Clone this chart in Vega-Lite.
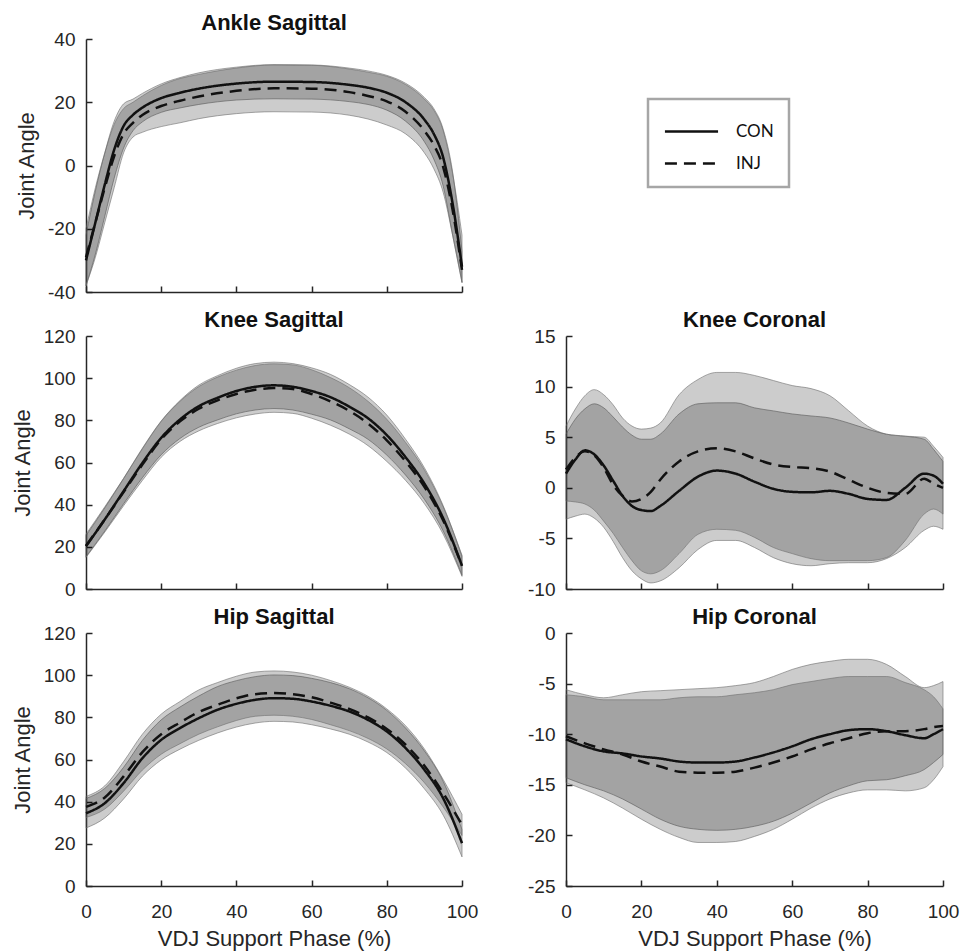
{
  "$schema": "https://vega.github.io/schema/vega-lite/v6.json",
  "background": "white",
  "padding": {"left": 11, "top": 12, "right": 5, "bottom": 2},
  "columns": 2,
  "bounds": "flush",
  "align": "all",
  "spacing": {"row": 44, "column": 103},
  "config": {
    "view": {"stroke": null},
    "font": "Liberation Sans",
    "axis": {
      "domainColor": "#262626", "domainWidth": 1.5,
      "tickColor": "#262626", "tickWidth": 1.5, "tickSize": -6,
      "labelFont": "Liberation Sans", "labelFontSize": 19, "labelColor": "#262626",
      "labelFlush": false, "labelOverlap": false,
      "titleFont": "Liberation Sans", "titleFontSize": 22, "titleFontWeight": "normal", "titleColor": "#262626",
      "grid": false
    },
    "axisX": {"labelPadding": 22, "titlePadding": 7},
    "axisY": {"labelPadding": 17, "titlePadding": 9},
    "title": {"font": "Liberation Sans", "fontSize": 22, "fontWeight": "bold", "color": "#111111", "offset": -5, "frame": "group"},
    "legend": {
      "orient": "none", "legendX": 562, "legendY": 60,
      "strokeColor": "#a6a6a6", "strokeWidth": 2.5, "padding": 15,
      "labelFont": "Lato", "labelFontSize": 17, "labelColor": "#111111",
      "symbolType": "M-1.66,0H1.66", "symbolSize": 1024, "symbolStrokeWidth": 2.5, "symbolOffset": 11,
      "symbolStrokeColor": "#111111", "labelOffset": 27, "rowPadding": 6
    }
  },
  "resolve": {
    "scale": {"x": "independent", "y": "independent", "strokeDash": "shared"},
    "legend": {"strokeDash": "shared"}
  },
  "datasets": {
    "kin": [
      {"panel": "Ankle Sagittal", "group": "CON", "phase": 0, "mean": -30, "lower": -38, "upper": -22},
      {"panel": "Ankle Sagittal", "group": "CON", "phase": 2.5, "mean": -18, "lower": -28, "upper": -8},
      {"panel": "Ankle Sagittal", "group": "CON", "phase": 5, "mean": -6, "lower": -16, "upper": 4},
      {"panel": "Ankle Sagittal", "group": "CON", "phase": 7.5, "mean": 5, "lower": -4, "upper": 14},
      {"panel": "Ankle Sagittal", "group": "CON", "phase": 10, "mean": 12.5, "lower": 5.5, "upper": 19.5},
      {"panel": "Ankle Sagittal", "group": "CON", "phase": 12.5, "mean": 16, "lower": 11, "upper": 21},
      {"panel": "Ankle Sagittal", "group": "CON", "phase": 15, "mean": 18.3, "lower": 13.8, "upper": 22.8},
      {"panel": "Ankle Sagittal", "group": "CON", "phase": 20, "mean": 21.3, "lower": 16.8, "upper": 25.8},
      {"panel": "Ankle Sagittal", "group": "CON", "phase": 25, "mean": 23, "lower": 18.2, "upper": 27.8},
      {"panel": "Ankle Sagittal", "group": "CON", "phase": 30, "mean": 24.3, "lower": 19.3, "upper": 29.3},
      {"panel": "Ankle Sagittal", "group": "CON", "phase": 40, "mean": 25.9, "lower": 20.7, "upper": 31.1},
      {"panel": "Ankle Sagittal", "group": "CON", "phase": 50, "mean": 26.5, "lower": 21.1, "upper": 31.9},
      {"panel": "Ankle Sagittal", "group": "CON", "phase": 60, "mean": 26.4, "lower": 21, "upper": 31.8},
      {"panel": "Ankle Sagittal", "group": "CON", "phase": 70, "mean": 25.5, "lower": 20.2, "upper": 30.8},
      {"panel": "Ankle Sagittal", "group": "CON", "phase": 75, "mean": 24.6, "lower": 19.3, "upper": 29.9},
      {"panel": "Ankle Sagittal", "group": "CON", "phase": 80, "mean": 23, "lower": 17.5, "upper": 28.5},
      {"panel": "Ankle Sagittal", "group": "CON", "phase": 85, "mean": 20, "lower": 14, "upper": 26},
      {"panel": "Ankle Sagittal", "group": "CON", "phase": 90, "mean": 14.5, "lower": 7.5, "upper": 21.5},
      {"panel": "Ankle Sagittal", "group": "CON", "phase": 92.5, "mean": 10, "lower": 2, "upper": 18},
      {"panel": "Ankle Sagittal", "group": "CON", "phase": 95, "mean": 2.5, "lower": -6.5, "upper": 11.5},
      {"panel": "Ankle Sagittal", "group": "CON", "phase": 97.5, "mean": -12, "lower": -22, "upper": -2},
      {"panel": "Ankle Sagittal", "group": "CON", "phase": 100, "mean": -32, "lower": -37, "upper": -27},
      {"panel": "Ankle Sagittal", "group": "INJ", "phase": 0, "mean": -29, "lower": -38, "upper": -20},
      {"panel": "Ankle Sagittal", "group": "INJ", "phase": 2.5, "mean": -18, "lower": -29, "upper": -7},
      {"panel": "Ankle Sagittal", "group": "INJ", "phase": 5, "mean": -7, "lower": -18, "upper": 4},
      {"panel": "Ankle Sagittal", "group": "INJ", "phase": 7.5, "mean": 3, "lower": -7, "upper": 13},
      {"panel": "Ankle Sagittal", "group": "INJ", "phase": 10, "mean": 10, "lower": 4, "upper": 18},
      {"panel": "Ankle Sagittal", "group": "INJ", "phase": 12.5, "mean": 13.5, "lower": 9, "upper": 20},
      {"panel": "Ankle Sagittal", "group": "INJ", "phase": 15, "mean": 16, "lower": 10.5, "upper": 22},
      {"panel": "Ankle Sagittal", "group": "INJ", "phase": 20, "mean": 18.8, "lower": 12.3, "upper": 25.3},
      {"panel": "Ankle Sagittal", "group": "INJ", "phase": 25, "mean": 20.5, "lower": 13.5, "upper": 27.5},
      {"panel": "Ankle Sagittal", "group": "INJ", "phase": 30, "mean": 21.8, "lower": 14.8, "upper": 28.8},
      {"panel": "Ankle Sagittal", "group": "INJ", "phase": 40, "mean": 23.6, "lower": 16.4, "upper": 30.8},
      {"panel": "Ankle Sagittal", "group": "INJ", "phase": 50, "mean": 24.4, "lower": 17, "upper": 31.8},
      {"panel": "Ankle Sagittal", "group": "INJ", "phase": 60, "mean": 24.3, "lower": 16.9, "upper": 31.7},
      {"panel": "Ankle Sagittal", "group": "INJ", "phase": 70, "mean": 23.2, "lower": 15.9, "upper": 30.5},
      {"panel": "Ankle Sagittal", "group": "INJ", "phase": 75, "mean": 22, "lower": 14.7, "upper": 29.5},
      {"panel": "Ankle Sagittal", "group": "INJ", "phase": 80, "mean": 20.3, "lower": 12.8, "upper": 28.2},
      {"panel": "Ankle Sagittal", "group": "INJ", "phase": 85, "mean": 17, "lower": 10, "upper": 25.6},
      {"panel": "Ankle Sagittal", "group": "INJ", "phase": 90, "mean": 11, "lower": 4, "upper": 21},
      {"panel": "Ankle Sagittal", "group": "INJ", "phase": 92.5, "mean": 6.5, "lower": -1, "upper": 17.5},
      {"panel": "Ankle Sagittal", "group": "INJ", "phase": 95, "mean": -0.5, "lower": -8.5, "upper": 11},
      {"panel": "Ankle Sagittal", "group": "INJ", "phase": 97.5, "mean": -14, "lower": -22, "upper": -2.5},
      {"panel": "Ankle Sagittal", "group": "INJ", "phase": 100, "mean": -33, "lower": -37, "upper": -22},

      {"panel": "Knee Sagittal", "group": "CON", "phase": 0, "mean": 20.3, "lower": 15.3, "upper": 25.3},
      {"panel": "Knee Sagittal", "group": "CON", "phase": 5, "mean": 33, "lower": 27.5, "upper": 38.5},
      {"panel": "Knee Sagittal", "group": "CON", "phase": 10, "mean": 46.4, "lower": 40.4, "upper": 52.4},
      {"panel": "Knee Sagittal", "group": "CON", "phase": 15, "mean": 59.8, "lower": 52.8, "upper": 66.8},
      {"panel": "Knee Sagittal", "group": "CON", "phase": 20, "mean": 71.7, "lower": 63.7, "upper": 79.7},
      {"panel": "Knee Sagittal", "group": "CON", "phase": 25, "mean": 80.4, "lower": 71.4, "upper": 89.4},
      {"panel": "Knee Sagittal", "group": "CON", "phase": 30, "mean": 86.7, "lower": 76.7, "upper": 96.7},
      {"panel": "Knee Sagittal", "group": "CON", "phase": 35, "mean": 90.7, "lower": 80.2, "upper": 101.2},
      {"panel": "Knee Sagittal", "group": "CON", "phase": 40, "mean": 93.9, "lower": 83.1, "upper": 104.7},
      {"panel": "Knee Sagittal", "group": "CON", "phase": 45, "mean": 95.9, "lower": 84.9, "upper": 106.9},
      {"panel": "Knee Sagittal", "group": "CON", "phase": 50, "mean": 96.6, "lower": 85.6, "upper": 107.6},
      {"panel": "Knee Sagittal", "group": "CON", "phase": 55, "mean": 95.9, "lower": 84.9, "upper": 106.9},
      {"panel": "Knee Sagittal", "group": "CON", "phase": 60, "mean": 93.9, "lower": 82.9, "upper": 104.9},
      {"panel": "Knee Sagittal", "group": "CON", "phase": 65, "mean": 91, "lower": 80.2, "upper": 101.8},
      {"panel": "Knee Sagittal", "group": "CON", "phase": 70, "mean": 86.5, "lower": 76, "upper": 97},
      {"panel": "Knee Sagittal", "group": "CON", "phase": 75, "mean": 81, "lower": 71, "upper": 91},
      {"panel": "Knee Sagittal", "group": "CON", "phase": 80, "mean": 73, "lower": 63.5, "upper": 82.5},
      {"panel": "Knee Sagittal", "group": "CON", "phase": 85, "mean": 62.5, "lower": 54, "upper": 71},
      {"panel": "Knee Sagittal", "group": "CON", "phase": 90, "mean": 50, "lower": 42.5, "upper": 57.5},
      {"panel": "Knee Sagittal", "group": "CON", "phase": 95, "mean": 33.5, "lower": 27.5, "upper": 39.5},
      {"panel": "Knee Sagittal", "group": "CON", "phase": 100, "mean": 11, "lower": 6.5, "upper": 15.5},
      {"panel": "Knee Sagittal", "group": "INJ", "phase": 0, "mean": 20.5, "lower": 15, "upper": 26},
      {"panel": "Knee Sagittal", "group": "INJ", "phase": 5, "mean": 33, "lower": 27, "upper": 39},
      {"panel": "Knee Sagittal", "group": "INJ", "phase": 10, "mean": 46, "lower": 39.5, "upper": 52.5},
      {"panel": "Knee Sagittal", "group": "INJ", "phase": 15, "mean": 59, "lower": 51.5, "upper": 66.5},
      {"panel": "Knee Sagittal", "group": "INJ", "phase": 20, "mean": 71, "lower": 62.5, "upper": 79.5},
      {"panel": "Knee Sagittal", "group": "INJ", "phase": 25, "mean": 79.5, "lower": 70, "upper": 89},
      {"panel": "Knee Sagittal", "group": "INJ", "phase": 30, "mean": 85.5, "lower": 75, "upper": 96},
      {"panel": "Knee Sagittal", "group": "INJ", "phase": 35, "mean": 89.5, "lower": 78.5, "upper": 100.5},
      {"panel": "Knee Sagittal", "group": "INJ", "phase": 40, "mean": 92.5, "lower": 81.2, "upper": 103.8},
      {"panel": "Knee Sagittal", "group": "INJ", "phase": 45, "mean": 94.5, "lower": 83, "upper": 106},
      {"panel": "Knee Sagittal", "group": "INJ", "phase": 50, "mean": 95.3, "lower": 83.8, "upper": 106.8},
      {"panel": "Knee Sagittal", "group": "INJ", "phase": 55, "mean": 94.8, "lower": 83.3, "upper": 106.3},
      {"panel": "Knee Sagittal", "group": "INJ", "phase": 60, "mean": 92.5, "lower": 81, "upper": 104},
      {"panel": "Knee Sagittal", "group": "INJ", "phase": 65, "mean": 89, "lower": 77.7, "upper": 100.3},
      {"panel": "Knee Sagittal", "group": "INJ", "phase": 70, "mean": 84.5, "lower": 73.5, "upper": 95.5},
      {"panel": "Knee Sagittal", "group": "INJ", "phase": 75, "mean": 78.5, "lower": 68, "upper": 89},
      {"panel": "Knee Sagittal", "group": "INJ", "phase": 80, "mean": 70.5, "lower": 60.5, "upper": 80.5},
      {"panel": "Knee Sagittal", "group": "INJ", "phase": 85, "mean": 60.5, "lower": 51.5, "upper": 69.5},
      {"panel": "Knee Sagittal", "group": "INJ", "phase": 90, "mean": 48.5, "lower": 40.5, "upper": 56.5},
      {"panel": "Knee Sagittal", "group": "INJ", "phase": 95, "mean": 32.5, "lower": 26, "upper": 39},
      {"panel": "Knee Sagittal", "group": "INJ", "phase": 100, "mean": 11, "lower": 6, "upper": 16},

      {"panel": "Hip Sagittal", "group": "CON", "phase": 0, "mean": 34.5, "lower": 27.5, "upper": 41.5},
      {"panel": "Hip Sagittal", "group": "CON", "phase": 5, "mean": 39.3, "lower": 32.3, "upper": 46.3},
      {"panel": "Hip Sagittal", "group": "CON", "phase": 10, "mean": 48.8, "lower": 41.3, "upper": 56.3},
      {"panel": "Hip Sagittal", "group": "CON", "phase": 15, "mean": 60.6, "lower": 52.1, "upper": 69.1},
      {"panel": "Hip Sagittal", "group": "CON", "phase": 20, "mean": 69.3, "lower": 59.8, "upper": 78.8},
      {"panel": "Hip Sagittal", "group": "CON", "phase": 25, "mean": 74.9, "lower": 64.9, "upper": 84.9},
      {"panel": "Hip Sagittal", "group": "CON", "phase": 30, "mean": 79.6, "lower": 69.1, "upper": 90.1},
      {"panel": "Hip Sagittal", "group": "CON", "phase": 35, "mean": 83.6, "lower": 72.6, "upper": 94.6},
      {"panel": "Hip Sagittal", "group": "CON", "phase": 40, "mean": 86.4, "lower": 75.4, "upper": 97.4},
      {"panel": "Hip Sagittal", "group": "CON", "phase": 45, "mean": 88.3, "lower": 77.3, "upper": 99.3},
      {"panel": "Hip Sagittal", "group": "CON", "phase": 50, "mean": 89.1, "lower": 78.1, "upper": 100.1},
      {"panel": "Hip Sagittal", "group": "CON", "phase": 55, "mean": 88.8, "lower": 77.8, "upper": 99.8},
      {"panel": "Hip Sagittal", "group": "CON", "phase": 60, "mean": 87.5, "lower": 76.5, "upper": 98.5},
      {"panel": "Hip Sagittal", "group": "CON", "phase": 65, "mean": 85.5, "lower": 74.5, "upper": 96.5},
      {"panel": "Hip Sagittal", "group": "CON", "phase": 70, "mean": 82.8, "lower": 72, "upper": 93.6},
      {"panel": "Hip Sagittal", "group": "CON", "phase": 75, "mean": 78.8, "lower": 68.3, "upper": 89.3},
      {"panel": "Hip Sagittal", "group": "CON", "phase": 80, "mean": 73.3, "lower": 63.3, "upper": 83.3},
      {"panel": "Hip Sagittal", "group": "CON", "phase": 85, "mean": 65.4, "lower": 55.9, "upper": 74.9},
      {"panel": "Hip Sagittal", "group": "CON", "phase": 90, "mean": 55.1, "lower": 46.1, "upper": 64.1},
      {"panel": "Hip Sagittal", "group": "CON", "phase": 95, "mean": 41.6, "lower": 33.6, "upper": 49.6},
      {"panel": "Hip Sagittal", "group": "CON", "phase": 100, "mean": 20.3, "lower": 13.8, "upper": 26.8},
      {"panel": "Hip Sagittal", "group": "INJ", "phase": 0, "mean": 37.5, "lower": 32.5, "upper": 42.5},
      {"panel": "Hip Sagittal", "group": "INJ", "phase": 5, "mean": 42, "lower": 36.5, "upper": 47.5},
      {"panel": "Hip Sagittal", "group": "INJ", "phase": 10, "mean": 52, "lower": 45, "upper": 59},
      {"panel": "Hip Sagittal", "group": "INJ", "phase": 15, "mean": 63.5, "lower": 55, "upper": 72},
      {"panel": "Hip Sagittal", "group": "INJ", "phase": 20, "mean": 72, "lower": 62.5, "upper": 81.5},
      {"panel": "Hip Sagittal", "group": "INJ", "phase": 25, "mean": 77.5, "lower": 67.5, "upper": 87.5},
      {"panel": "Hip Sagittal", "group": "INJ", "phase": 30, "mean": 82.5, "lower": 72, "upper": 93},
      {"panel": "Hip Sagittal", "group": "INJ", "phase": 35, "mean": 86, "lower": 75.5, "upper": 96.5},
      {"panel": "Hip Sagittal", "group": "INJ", "phase": 40, "mean": 89, "lower": 78.5, "upper": 99.5},
      {"panel": "Hip Sagittal", "group": "INJ", "phase": 45, "mean": 91, "lower": 80.5, "upper": 101.5},
      {"panel": "Hip Sagittal", "group": "INJ", "phase": 50, "mean": 91.5, "lower": 81, "upper": 102},
      {"panel": "Hip Sagittal", "group": "INJ", "phase": 55, "mean": 91, "lower": 80.5, "upper": 101.5},
      {"panel": "Hip Sagittal", "group": "INJ", "phase": 60, "mean": 89.5, "lower": 79, "upper": 100},
      {"panel": "Hip Sagittal", "group": "INJ", "phase": 65, "mean": 87, "lower": 76.5, "upper": 97.5},
      {"panel": "Hip Sagittal", "group": "INJ", "phase": 70, "mean": 84, "lower": 73.7, "upper": 94.3},
      {"panel": "Hip Sagittal", "group": "INJ", "phase": 75, "mean": 80, "lower": 70, "upper": 90},
      {"panel": "Hip Sagittal", "group": "INJ", "phase": 80, "mean": 74.5, "lower": 65, "upper": 84},
      {"panel": "Hip Sagittal", "group": "INJ", "phase": 85, "mean": 67, "lower": 58, "upper": 76},
      {"panel": "Hip Sagittal", "group": "INJ", "phase": 90, "mean": 57, "lower": 49, "upper": 65},
      {"panel": "Hip Sagittal", "group": "INJ", "phase": 95, "mean": 44, "lower": 37.5, "upper": 50.5},
      {"panel": "Hip Sagittal", "group": "INJ", "phase": 100, "mean": 29, "lower": 24, "upper": 34},

      {"panel": "Knee Coronal", "group": "CON", "phase": 0, "mean": 1.4, "lower": -3.1, "upper": 5.3},
      {"panel": "Knee Coronal", "group": "CON", "phase": 2.5, "mean": 2.8, "lower": -2.8, "upper": 6.8},
      {"panel": "Knee Coronal", "group": "CON", "phase": 5, "mean": 3.7, "lower": -2.6, "upper": 7.8},
      {"panel": "Knee Coronal", "group": "CON", "phase": 7.5, "mean": 3.3, "lower": -3.0, "upper": 8.3},
      {"panel": "Knee Coronal", "group": "CON", "phase": 10, "mean": 2.2, "lower": -3.9, "upper": 7.9},
      {"panel": "Knee Coronal", "group": "CON", "phase": 12.5, "mean": 0.7, "lower": -5.3, "upper": 7.0},
      {"panel": "Knee Coronal", "group": "CON", "phase": 15, "mean": -0.8, "lower": -6.9, "upper": 6.0},
      {"panel": "Knee Coronal", "group": "CON", "phase": 17.5, "mean": -1.8, "lower": -8.2, "upper": 5.2},
      {"panel": "Knee Coronal", "group": "CON", "phase": 20, "mean": -2.2, "lower": -9.0, "upper": 4.8},
      {"panel": "Knee Coronal", "group": "CON", "phase": 22.5, "mean": -2.3, "lower": -9.4, "upper": 4.8},
      {"panel": "Knee Coronal", "group": "CON", "phase": 25, "mean": -1.8, "lower": -9.2, "upper": 5.3},
      {"panel": "Knee Coronal", "group": "CON", "phase": 30, "mean": -0.3, "lower": -7.9, "upper": 7.3},
      {"panel": "Knee Coronal", "group": "CON", "phase": 35, "mean": 1.1, "lower": -6.1, "upper": 8.3},
      {"panel": "Knee Coronal", "group": "CON", "phase": 40, "mean": 1.7, "lower": -5.2, "upper": 8.4},
      {"panel": "Knee Coronal", "group": "CON", "phase": 45, "mean": 1.4, "lower": -5.2, "upper": 8.4},
      {"panel": "Knee Coronal", "group": "CON", "phase": 50, "mean": 0.6, "lower": -5.9, "upper": 7.9},
      {"panel": "Knee Coronal", "group": "CON", "phase": 55, "mean": -0.1, "lower": -6.9, "upper": 7.6},
      {"panel": "Knee Coronal", "group": "CON", "phase": 60, "mean": -0.4, "lower": -7.5, "upper": 7.3},
      {"panel": "Knee Coronal", "group": "CON", "phase": 65, "mean": -0.45, "lower": -7.7, "upper": 7.1},
      {"panel": "Knee Coronal", "group": "CON", "phase": 70, "mean": -0.3, "lower": -7.5, "upper": 6.9},
      {"panel": "Knee Coronal", "group": "CON", "phase": 75, "mean": -0.6, "lower": -7.4, "upper": 6.4},
      {"panel": "Knee Coronal", "group": "CON", "phase": 80, "mean": -1.1, "lower": -7.4, "upper": 5.8},
      {"panel": "Knee Coronal", "group": "CON", "phase": 85, "mean": -1.2, "lower": -7.0, "upper": 5.3},
      {"panel": "Knee Coronal", "group": "CON", "phase": 90, "mean": 0.0, "lower": -5.9, "upper": 5.1},
      {"panel": "Knee Coronal", "group": "CON", "phase": 95, "mean": 1.4, "lower": -4.2, "upper": 4.8},
      {"panel": "Knee Coronal", "group": "CON", "phase": 97.5, "mean": 1.2, "lower": -3.8, "upper": 3.8},
      {"panel": "Knee Coronal", "group": "CON", "phase": 100, "mean": 0.4, "lower": -4.1, "upper": 2.6},
      {"panel": "Knee Coronal", "group": "INJ", "phase": 0, "mean": 1.8, "lower": -1.3, "upper": 6.1},
      {"panel": "Knee Coronal", "group": "INJ", "phase": 2.5, "mean": 3.0, "lower": -1.4, "upper": 7.8},
      {"panel": "Knee Coronal", "group": "INJ", "phase": 5, "mean": 3.6, "lower": -1.6, "upper": 9.1},
      {"panel": "Knee Coronal", "group": "INJ", "phase": 7.5, "mean": 3.2, "lower": -2.2, "upper": 9.7},
      {"panel": "Knee Coronal", "group": "INJ", "phase": 10, "mean": 2.0, "lower": -3.3, "upper": 9.2},
      {"panel": "Knee Coronal", "group": "INJ", "phase": 12.5, "mean": 0.3, "lower": -4.5, "upper": 8.2},
      {"panel": "Knee Coronal", "group": "INJ", "phase": 15, "mean": -0.8, "lower": -5.9, "upper": 6.9},
      {"panel": "Knee Coronal", "group": "INJ", "phase": 17.5, "mean": -1.35, "lower": -7.2, "upper": 6.1},
      {"panel": "Knee Coronal", "group": "INJ", "phase": 20, "mean": -1.1, "lower": -8.2, "upper": 5.8},
      {"panel": "Knee Coronal", "group": "INJ", "phase": 22.5, "mean": -0.4, "lower": -8.5, "upper": 5.9},
      {"panel": "Knee Coronal", "group": "INJ", "phase": 25, "mean": 0.8, "lower": -8.2, "upper": 6.4},
      {"panel": "Knee Coronal", "group": "INJ", "phase": 30, "mean": 2.6, "lower": -6.5, "upper": 9.2},
      {"panel": "Knee Coronal", "group": "INJ", "phase": 35, "mean": 3.6, "lower": -4.6, "upper": 10.7},
      {"panel": "Knee Coronal", "group": "INJ", "phase": 40, "mean": 3.9, "lower": -4.1, "upper": 11.4},
      {"panel": "Knee Coronal", "group": "INJ", "phase": 45, "mean": 3.6, "lower": -4.2, "upper": 11.4},
      {"panel": "Knee Coronal", "group": "INJ", "phase": 50, "mean": 2.9, "lower": -4.9, "upper": 11.1},
      {"panel": "Knee Coronal", "group": "INJ", "phase": 55, "mean": 2.3, "lower": -5.9, "upper": 10.6},
      {"panel": "Knee Coronal", "group": "INJ", "phase": 60, "mean": 2.05, "lower": -6.5, "upper": 10.1},
      {"panel": "Knee Coronal", "group": "INJ", "phase": 65, "mean": 1.95, "lower": -7.0, "upper": 9.8},
      {"panel": "Knee Coronal", "group": "INJ", "phase": 70, "mean": 1.6, "lower": -7.2, "upper": 9.1},
      {"panel": "Knee Coronal", "group": "INJ", "phase": 75, "mean": 0.8, "lower": -7.2, "upper": 7.6},
      {"panel": "Knee Coronal", "group": "INJ", "phase": 80, "mean": 0.0, "lower": -7.2, "upper": 6.1},
      {"panel": "Knee Coronal", "group": "INJ", "phase": 85, "mean": -0.5, "lower": -6.9, "upper": 5.3},
      {"panel": "Knee Coronal", "group": "INJ", "phase": 90, "mean": -0.6, "lower": -5.2, "upper": 5.1},
      {"panel": "Knee Coronal", "group": "INJ", "phase": 95, "mean": 0.9, "lower": -2.6, "upper": 5.0},
      {"panel": "Knee Coronal", "group": "INJ", "phase": 97.5, "mean": 0.4, "lower": -2.1, "upper": 4.1},
      {"panel": "Knee Coronal", "group": "INJ", "phase": 100, "mean": 0.0, "lower": -2.6, "upper": 3.0},

      {"panel": "Hip Coronal", "group": "CON", "phase": 0, "mean": -10.5, "lower": -14.3, "upper": -5.6},
      {"panel": "Hip Coronal", "group": "CON", "phase": 5, "mean": -11.2, "lower": -15.0, "upper": -6.1},
      {"panel": "Hip Coronal", "group": "CON", "phase": 10, "mean": -11.7, "lower": -15.6, "upper": -6.4},
      {"panel": "Hip Coronal", "group": "CON", "phase": 15, "mean": -11.9, "lower": -16.4, "upper": -6.1},
      {"panel": "Hip Coronal", "group": "CON", "phase": 20, "mean": -12.2, "lower": -17.4, "upper": -5.8},
      {"panel": "Hip Coronal", "group": "CON", "phase": 25, "mean": -12.4, "lower": -18.4, "upper": -5.7},
      {"panel": "Hip Coronal", "group": "CON", "phase": 30, "mean": -12.7, "lower": -19.1, "upper": -5.6},
      {"panel": "Hip Coronal", "group": "CON", "phase": 35, "mean": -12.8, "lower": -19.4, "upper": -5.5},
      {"panel": "Hip Coronal", "group": "CON", "phase": 40, "mean": -12.8, "lower": -19.5, "upper": -5.4},
      {"panel": "Hip Coronal", "group": "CON", "phase": 45, "mean": -12.7, "lower": -19.4, "upper": -5.2},
      {"panel": "Hip Coronal", "group": "CON", "phase": 50, "mean": -12.3, "lower": -19.1, "upper": -4.9},
      {"panel": "Hip Coronal", "group": "CON", "phase": 55, "mean": -11.8, "lower": -18.6, "upper": -4.3},
      {"panel": "Hip Coronal", "group": "CON", "phase": 60, "mean": -11.2, "lower": -17.8, "upper": -3.6},
      {"panel": "Hip Coronal", "group": "CON", "phase": 65, "mean": -10.5, "lower": -16.8, "upper": -3.1},
      {"panel": "Hip Coronal", "group": "CON", "phase": 70, "mean": -10.0, "lower": -15.8, "upper": -2.8},
      {"panel": "Hip Coronal", "group": "CON", "phase": 75, "mean": -9.6, "lower": -15.1, "upper": -2.6},
      {"panel": "Hip Coronal", "group": "CON", "phase": 80, "mean": -9.5, "lower": -14.6, "upper": -2.6},
      {"panel": "Hip Coronal", "group": "CON", "phase": 85, "mean": -9.7, "lower": -14.5, "upper": -3.1},
      {"panel": "Hip Coronal", "group": "CON", "phase": 90, "mean": -10.1, "lower": -14.1, "upper": -4.3},
      {"panel": "Hip Coronal", "group": "CON", "phase": 95, "mean": -10.4, "lower": -13.5, "upper": -5.4},
      {"panel": "Hip Coronal", "group": "CON", "phase": 97.5, "mean": -10.0, "lower": -12.8, "upper": -5.2},
      {"panel": "Hip Coronal", "group": "CON", "phase": 100, "mean": -9.5, "lower": -12.0, "upper": -4.8},
      {"panel": "Hip Coronal", "group": "INJ", "phase": 0, "mean": -10.2, "lower": -14.8, "upper": -6.1},
      {"panel": "Hip Coronal", "group": "INJ", "phase": 5, "mean": -10.9, "lower": -15.5, "upper": -6.3},
      {"panel": "Hip Coronal", "group": "INJ", "phase": 10, "mean": -11.5, "lower": -16.3, "upper": -6.6},
      {"panel": "Hip Coronal", "group": "INJ", "phase": 15, "mean": -12.0, "lower": -17.3, "upper": -6.6},
      {"panel": "Hip Coronal", "group": "INJ", "phase": 20, "mean": -12.7, "lower": -18.4, "upper": -6.6},
      {"panel": "Hip Coronal", "group": "INJ", "phase": 25, "mean": -13.2, "lower": -19.4, "upper": -6.6},
      {"panel": "Hip Coronal", "group": "INJ", "phase": 30, "mean": -13.7, "lower": -20.2, "upper": -6.4},
      {"panel": "Hip Coronal", "group": "INJ", "phase": 35, "mean": -13.8, "lower": -20.7, "upper": -6.3},
      {"panel": "Hip Coronal", "group": "INJ", "phase": 40, "mean": -13.8, "lower": -20.7, "upper": -6.3},
      {"panel": "Hip Coronal", "group": "INJ", "phase": 45, "mean": -13.7, "lower": -20.6, "upper": -6.1},
      {"panel": "Hip Coronal", "group": "INJ", "phase": 50, "mean": -13.3, "lower": -20.1, "upper": -5.9},
      {"panel": "Hip Coronal", "group": "INJ", "phase": 55, "mean": -12.8, "lower": -19.4, "upper": -5.6},
      {"panel": "Hip Coronal", "group": "INJ", "phase": 60, "mean": -12.2, "lower": -18.4, "upper": -5.1},
      {"panel": "Hip Coronal", "group": "INJ", "phase": 65, "mean": -11.5, "lower": -17.3, "upper": -4.8},
      {"panel": "Hip Coronal", "group": "INJ", "phase": 70, "mean": -10.9, "lower": -16.4, "upper": -4.5},
      {"panel": "Hip Coronal", "group": "INJ", "phase": 75, "mean": -10.4, "lower": -15.8, "upper": -4.3},
      {"panel": "Hip Coronal", "group": "INJ", "phase": 80, "mean": -9.9, "lower": -15.5, "upper": -4.3},
      {"panel": "Hip Coronal", "group": "INJ", "phase": 85, "mean": -9.7, "lower": -15.5, "upper": -4.3},
      {"panel": "Hip Coronal", "group": "INJ", "phase": 90, "mean": -9.7, "lower": -15.6, "upper": -4.9},
      {"panel": "Hip Coronal", "group": "INJ", "phase": 95, "mean": -9.5, "lower": -15.3, "upper": -5.6},
      {"panel": "Hip Coronal", "group": "INJ", "phase": 97.5, "mean": -9.3, "lower": -14.5, "upper": -6.3},
      {"panel": "Hip Coronal", "group": "INJ", "phase": 100, "mean": -9.2, "lower": -13.2, "upper": -7.5}
    ]
  },
  "concat": [
    {
      "width": 376, "height": 253,
      "title": "Ankle Sagittal",
      "data": {"name": "kin"},
      "transform": [{"filter": "datum.panel === 'Ankle Sagittal'"}],
      "layer": [
        {
          "mark": {"type": "area", "interpolate": "monotone", "fill": "#000000", "fillOpacity": 0.2, "stroke": "#6e6e6e", "strokeWidth": 1, "strokeOpacity": 0.6},
          "encoding": {
            "x": {"field": "phase", "type": "quantitative", "scale": {"domain": [0, 100], "nice": false}, "axis": {"values": [0, 20, 40, 60, 80, 100], "labels": false, "title": null}},
            "y": {"field": "lower", "type": "quantitative", "title": "Joint Angle", "scale": {"domain": [-40, 40], "nice": false, "zero": false}, "axis": {"values": [-40, -20, 0, 20, 40], "labelExpr": "'' + datum.value"}},
            "y2": {"field": "upper"},
            "detail": {"field": "group"}
          }
        },
        {
          "mark": {"type": "line", "interpolate": "monotone", "color": "#111111", "strokeWidth": 2.5},
          "encoding": {
            "x": {"field": "phase", "type": "quantitative"},
            "y": {"field": "mean", "type": "quantitative", "title": "Joint Angle"},
            "strokeDash": {"field": "group", "type": "nominal", "scale": {"domain": ["CON", "INJ"], "range": [[1, 0], [12, 7]]}, "legend": {"title": null}}
          }
        }
      ]
    },
    {
      "width": 376, "height": 253,
      "data": {"values": [{}]},
      "mark": {"type": "text", "text": ""},
      "encoding": {}
    },
    {
      "width": 376, "height": 253,
      "title": "Knee Sagittal",
      "data": {"name": "kin"},
      "transform": [{"filter": "datum.panel === 'Knee Sagittal'"}],
      "layer": [
        {
          "mark": {"type": "area", "interpolate": "monotone", "fill": "#000000", "fillOpacity": 0.2, "stroke": "#6e6e6e", "strokeWidth": 1, "strokeOpacity": 0.6},
          "encoding": {
            "x": {"field": "phase", "type": "quantitative", "scale": {"domain": [0, 100], "nice": false}, "axis": {"values": [0, 20, 40, 60, 80, 100], "labels": false, "title": null}},
            "y": {"field": "lower", "type": "quantitative", "title": "Joint Angle", "scale": {"domain": [0, 120], "nice": false, "zero": false}, "axis": {"values": [0, 20, 40, 60, 80, 100, 120], "labelExpr": "'' + datum.value"}},
            "y2": {"field": "upper"},
            "detail": {"field": "group"}
          }
        },
        {
          "mark": {"type": "line", "interpolate": "monotone", "color": "#111111", "strokeWidth": 2.5},
          "encoding": {
            "x": {"field": "phase", "type": "quantitative"},
            "y": {"field": "mean", "type": "quantitative", "title": "Joint Angle"},
            "strokeDash": {"field": "group", "type": "nominal", "scale": {"domain": ["CON", "INJ"], "range": [[1, 0], [12, 7]]}, "legend": {"title": null}}
          }
        }
      ]
    },
    {
      "width": 377, "height": 253,
      "title": "Knee Coronal",
      "data": {"name": "kin"},
      "transform": [{"filter": "datum.panel === 'Knee Coronal'"}],
      "layer": [
        {
          "mark": {"type": "area", "interpolate": "monotone", "fill": "#000000", "fillOpacity": 0.2, "stroke": "#6e6e6e", "strokeWidth": 1, "strokeOpacity": 0.6},
          "encoding": {
            "x": {"field": "phase", "type": "quantitative", "scale": {"domain": [0, 100], "nice": false}, "axis": {"values": [0, 20, 40, 60, 80, 100], "labels": false, "title": null}},
            "y": {"field": "lower", "type": "quantitative", "title": null, "scale": {"domain": [-10, 15], "nice": false, "zero": false}, "axis": {"values": [-10, -5, 0, 5, 10, 15], "labelExpr": "'' + datum.value"}},
            "y2": {"field": "upper"},
            "detail": {"field": "group"}
          }
        },
        {
          "mark": {"type": "line", "interpolate": "monotone", "color": "#111111", "strokeWidth": 2.5},
          "encoding": {
            "x": {"field": "phase", "type": "quantitative"},
            "y": {"field": "mean", "type": "quantitative", "title": null},
            "strokeDash": {"field": "group", "type": "nominal", "scale": {"domain": ["CON", "INJ"], "range": [[1, 0], [12, 7]]}, "legend": {"title": null}}
          }
        }
      ]
    },
    {
      "width": 376, "height": 253,
      "title": "Hip Sagittal",
      "data": {"name": "kin"},
      "transform": [{"filter": "datum.panel === 'Hip Sagittal'"}],
      "layer": [
        {
          "mark": {"type": "area", "interpolate": "monotone", "fill": "#000000", "fillOpacity": 0.2, "stroke": "#6e6e6e", "strokeWidth": 1, "strokeOpacity": 0.6},
          "encoding": {
            "x": {"field": "phase", "type": "quantitative", "title": "VDJ Support Phase (%)", "scale": {"domain": [0, 100], "nice": false}, "axis": {"values": [0, 20, 40, 60, 80, 100]}},
            "y": {"field": "lower", "type": "quantitative", "title": "Joint Angle", "scale": {"domain": [0, 120], "nice": false, "zero": false}, "axis": {"values": [0, 20, 40, 60, 80, 100, 120], "labelExpr": "'' + datum.value"}},
            "y2": {"field": "upper"},
            "detail": {"field": "group"}
          }
        },
        {
          "mark": {"type": "line", "interpolate": "monotone", "color": "#111111", "strokeWidth": 2.5},
          "encoding": {
            "x": {"field": "phase", "type": "quantitative", "title": "VDJ Support Phase (%)"},
            "y": {"field": "mean", "type": "quantitative", "title": "Joint Angle"},
            "strokeDash": {"field": "group", "type": "nominal", "scale": {"domain": ["CON", "INJ"], "range": [[1, 0], [12, 7]]}, "legend": {"title": null}}
          }
        }
      ]
    },
    {
      "width": 377, "height": 253,
      "title": "Hip Coronal",
      "data": {"name": "kin"},
      "transform": [{"filter": "datum.panel === 'Hip Coronal'"}],
      "layer": [
        {
          "mark": {"type": "area", "interpolate": "monotone", "fill": "#000000", "fillOpacity": 0.2, "stroke": "#6e6e6e", "strokeWidth": 1, "strokeOpacity": 0.6},
          "encoding": {
            "x": {"field": "phase", "type": "quantitative", "title": "VDJ Support Phase (%)", "scale": {"domain": [0, 100], "nice": false}, "axis": {"values": [0, 20, 40, 60, 80, 100]}},
            "y": {"field": "lower", "type": "quantitative", "title": null, "scale": {"domain": [-25, 0], "nice": false, "zero": false}, "axis": {"values": [-25, -20, -15, -10, -5, 0], "labelExpr": "'' + datum.value"}},
            "y2": {"field": "upper"},
            "detail": {"field": "group"}
          }
        },
        {
          "mark": {"type": "line", "interpolate": "monotone", "color": "#111111", "strokeWidth": 2.5},
          "encoding": {
            "x": {"field": "phase", "type": "quantitative", "title": "VDJ Support Phase (%)"},
            "y": {"field": "mean", "type": "quantitative", "title": null},
            "strokeDash": {"field": "group", "type": "nominal", "scale": {"domain": ["CON", "INJ"], "range": [[1, 0], [12, 7]]}, "legend": {"title": null}}
          }
        }
      ]
    }
  ]
}
